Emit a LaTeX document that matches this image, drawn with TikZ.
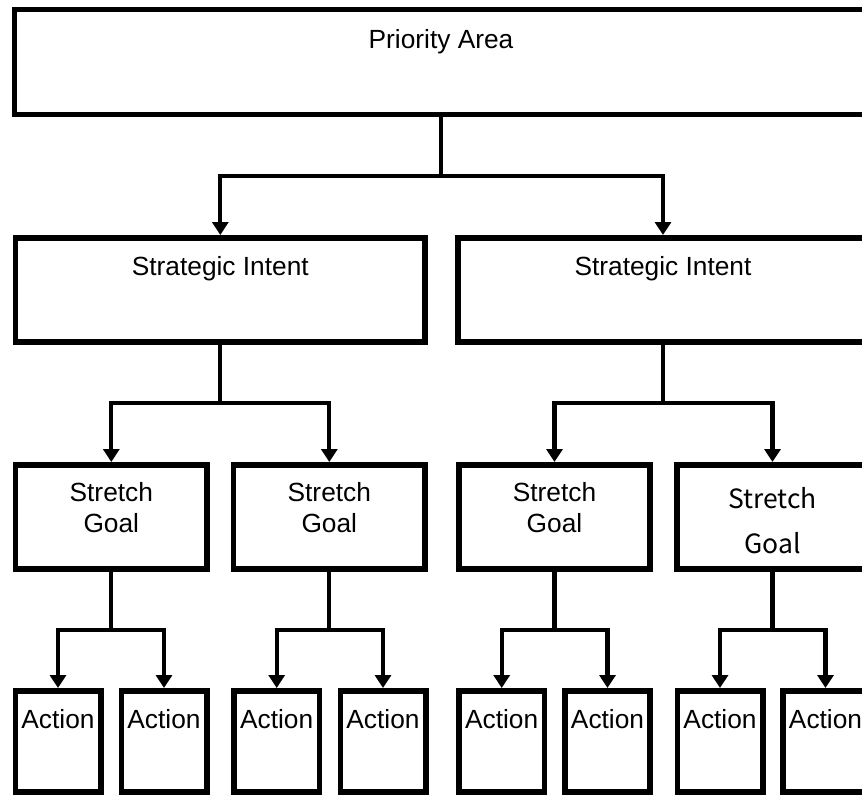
\documentclass[tikz,border=0pt]{standalone}
\usepackage{fontspec}
\setmainfont{Liberation Sans}
\newfontfamily\jpfont{Noto Sans CJK JP}
\usetikzlibrary{arrows.meta}
\tikzset{>={Triangle[width=16pt,length=13pt]}}
\newcommand{\twolines}[2]{\begin{tabular}[t]{@{}c@{}}#1\\#2\end{tabular}}

\begin{document}
\begin{tikzpicture}[
    x = 1pt, y = -1pt,
    font = \fontsize{26.3}{30.7}\selectfont,
    box/.style = {draw, line width=5.6pt, inner sep=0pt, text height=37.5pt},
    area/.style = {box, minimum width=853pt, text height=38.8pt, text depth=66.2pt},
    intent/.style = {box, minimum width=409.7pt, text height=37.2pt, text depth=67.2pt},
    goal/.style = {box, minimum width=191.4pt, text height=36.9pt, text depth=67.5pt},
    action/.style = {box, minimum width=85.4pt, text depth=63.9pt},
    link/.style = {->, line width=4.3pt}
  ]
  \useasboundingbox (0,0) rectangle (862,796);

  \node[area] (area) at (441,62) {Priority Area};

  \node[intent] (si1) at (220.3,290) {Strategic Intent};
  \node[intent] (si2) at (663,290) {Strategic Intent};

  \node[goal] (sg1) at (111.3,517) {\twolines{Stretch}{Goal}};
  \node[goal] (sg2) at (329.3,517) {\twolines{Stretch}{Goal}};
  \node[goal] (sg3) at (554.5,517) {\twolines{Stretch}{Goal}};
  \node[goal, font=\jpfont\fontsize{26.5}{45}\selectfont,
    text height=43.2pt, text depth=61.2pt] (sg4) at (772.5,517) {\twolines{Stretch}{Goal}};

  \foreach \x [count=\i] in {58,164,276.7,383,501.7,607.5,720,825.5}
  \node[action] (act\i) at (\x,741.5) {Action};

  % connectors
  \draw[link] (area.south) -- ++(0,58.7) -| (si1.north);
  \draw[link] (area.south) -- ++(0,58.7) -| (si2.north);

  \foreach \s/\g in {1/1,1/2,2/3,2/4}
  \draw[link] (si\s.south) -- ++(0,58) -| (sg\g.north);

  \foreach \g/\i in {1/1,1/2,2/3,2/4,3/5,3/6,4/7,4/8}
  \draw[link] (sg\g.south) -- ++(0,58) -| (act\i.north);
\end{tikzpicture}
\end{document}
